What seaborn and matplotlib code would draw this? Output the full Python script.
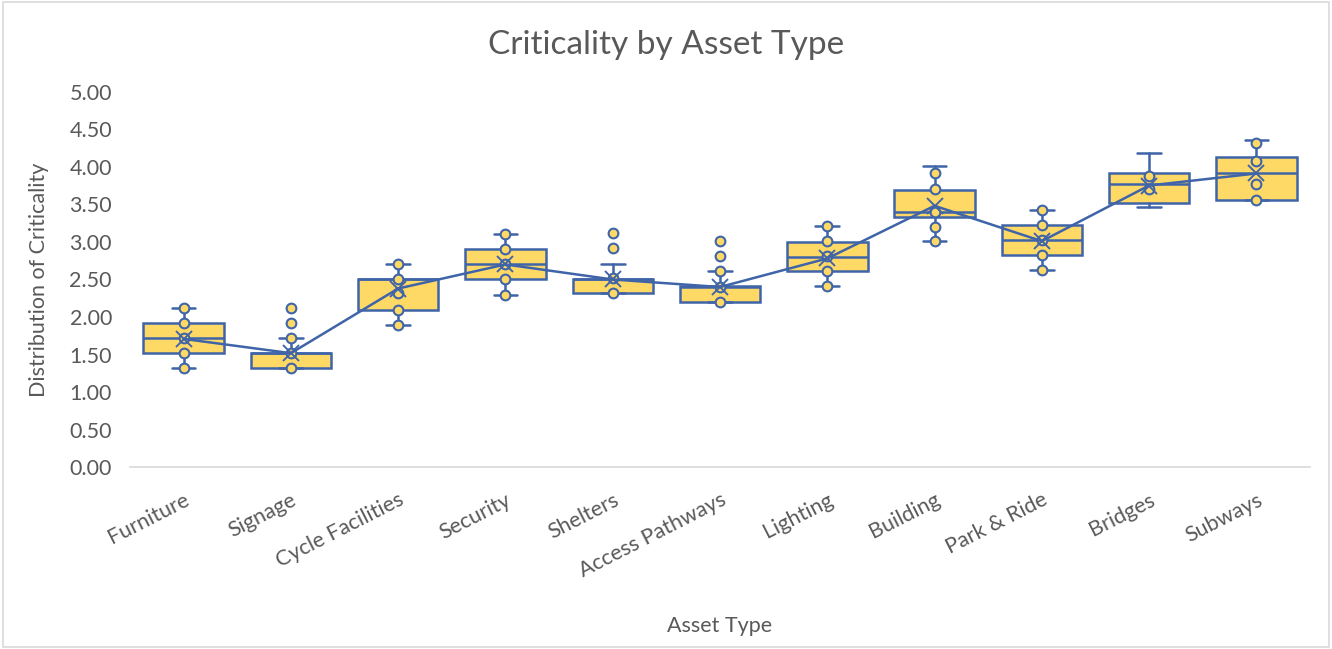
import numpy as np
import pandas as pd
import seaborn as sns
import matplotlib
matplotlib.use('Agg')
import matplotlib.pyplot as plt
from matplotlib.patches import Rectangle

# categories and box statistics
asset_types = ['Furniture', 'Signage', 'Cycle Facilities', 'Security', 'Shelters',
               'Access Pathways', 'Lighting', 'Building', 'Park & Ride', 'Bridges', 'Subways']
whisker_low = [1.32, 1.32, 1.90, 2.30, 2.32, 2.20, 2.41, 3.01, 2.62, 3.46, 3.56]
q1 = [1.52, 1.32, 2.10, 2.51, 2.32, 2.20, 2.61, 3.33, 2.82, 3.52, 3.56]
median = [1.72, 1.52, 2.50, 2.70, 2.50, 2.40, 2.80, 3.40, 3.02, 3.77, 3.92]
q3 = [1.92, 1.52, 2.50, 2.90, 2.50, 2.41, 3.00, 3.69, 3.22, 3.92, 4.13]
whisker_high = [2.12, 1.72, 2.70, 3.10, 2.71, 2.61, 3.21, 4.01, 3.43, 4.18, 4.36]
mean = [1.71, 1.52, 2.38, 2.70, 2.50, 2.40, 2.78, 3.48, 3.01, 3.75, 3.91]

# individual points shown on each box
points = {
    'Furniture': [1.32, 1.52, 1.72, 1.92, 2.12],
    'Signage': [1.32, 1.52, 1.72, 1.92, 2.12],
    'Cycle Facilities': [1.90, 2.10, 2.32, 2.50, 2.70],
    'Security': [2.30, 2.51, 2.70, 2.90, 3.10],
    'Shelters': [2.32, 2.52, 2.92, 3.12],
    'Access Pathways': [2.20, 2.40, 2.61, 2.81, 3.01],
    'Lighting': [2.41, 2.61, 2.81, 3.01, 3.21],
    'Building': [3.01, 3.20, 3.40, 3.71, 3.91],
    'Park & Ride': [2.62, 2.82, 3.02, 3.22, 3.43],
    'Bridges': [3.70, 3.87],
    'Subways': [3.56, 3.77, 4.07, 4.31],
}

y_ticks = [0, 0.5, 1, 1.5, 2, 2.5, 3, 3.5, 4, 4.5, 5]

blue = '#3F64A8'
gold = '#FFD966'
grey = '#595959'

sns.set_theme(style='white')
plt.rcParams['font.family'] = ['Lato', 'DejaVu Sans']

pts_df = pd.DataFrame([(k, v) for k, vals in points.items() for v in vals],
                      columns=['asset', 'value'])
mean_df = pd.DataFrame({'asset': asset_types, 'mean': mean})

fig = plt.figure(figsize=(13.32, 6.49), dpi=100)
ax = fig.add_axes([0.0976, 0.2797, 0.8859, 0.5793])

stats = []
for i, name in enumerate(asset_types):
    stats.append(dict(label=name, whislo=whisker_low[i], q1=q1[i], med=median[i],
                      q3=q3[i], whishi=whisker_high[i], fliers=[]))

ax.bxp(stats, positions=range(len(asset_types)), widths=0.75, capwidths=0.22,
       patch_artist=True, showfliers=False, manage_ticks=False,
       boxprops=dict(facecolor=gold, edgecolor=blue, linewidth=1.8),
       medianprops=dict(color=blue, linewidth=1.8),
       whiskerprops=dict(color=blue, linewidth=1.8),
       capprops=dict(color=blue, linewidth=1.8))

sns.stripplot(data=pts_df, x='asset', y='value', order=asset_types, jitter=False,
              color=gold, edgecolor=blue, linewidth=1.5, size=7, ax=ax, zorder=3)

sns.pointplot(data=mean_df, x='asset', y='mean', order=asset_types, errorbar=None,
              color=blue, markers='x', markersize=12, linewidth=1.8, ax=ax)
for ln in ax.lines[-1:]:
    ln.set_zorder(4)

ax.set_xlim(-0.5, len(asset_types) - 0.5)
ax.set_ylim(0, 5)
ax.set_yticks(y_ticks)
ax.set_yticklabels([f'{t:.2f}' for t in y_ticks], color=grey, fontsize=15.5)
ax.set_xticks(range(len(asset_types)))
ax.set_xticklabels(asset_types, rotation=27, ha='right', rotation_mode='anchor',
                   color=grey, fontsize=15.5)
ax.tick_params(axis='y', length=0, pad=13)
ax.tick_params(axis='x', length=0, pad=16)

for s in ['left', 'right', 'top']:
    ax.spines[s].set_visible(False)
ax.spines['bottom'].set_color('#D9D9D9')
ax.spines['bottom'].set_linewidth(1.2)

ax.set_xlabel('Asset Type', color=grey, fontsize=15.5)
ax.xaxis.set_label_coords(0.5, -0.395)
ax.set_ylabel('Distribution of Criticality', color=grey, fontsize=15.5)
ax.yaxis.set_label_coords(-0.069, 0.5)

fig.text(0.5, 0.93, 'Criticality by Asset Type', ha='center', va='center',
         color=grey, fontsize=24)

fig.patches.append(Rectangle((0.002, 0.003), 0.996, 0.994, transform=fig.transFigure,
                             fill=False, edgecolor='#D9D9D9', linewidth=1.2))

fig.savefig('out.png', dpi=100)
